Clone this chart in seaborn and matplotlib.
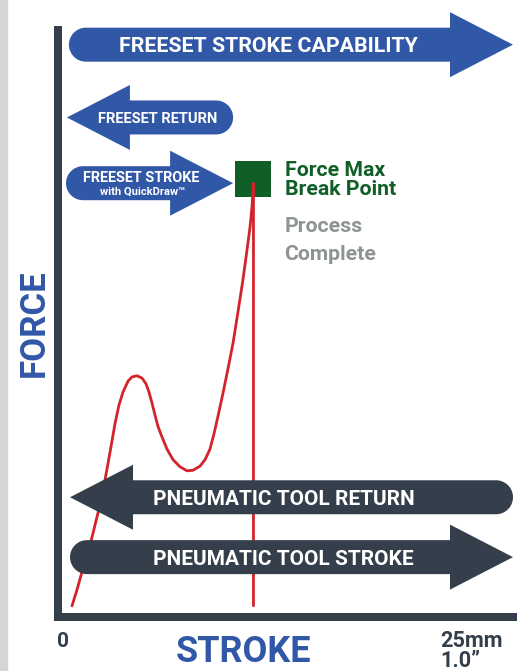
"""
Force vs stroke profile: FreeSet tool against a pneumatic tool
"""

import numpy as np
import matplotlib.pyplot as plt
import seaborn as sns
from matplotlib.patches import Polygon, Rectangle

# ==================== DATA ====================
# force curve (stroke in mm, force in % of chart height)
stroke_mm = [0.77, 1.04, 1.32, 1.59, 1.87, 2.09, 2.31, 2.58, 2.86, 3.13,
             3.35, 3.57, 3.85, 4.07, 4.34, 4.62, 4.84, 5.00, 5.16, 5.33,
             5.49, 5.71, 5.99, 6.32, 6.70, 7.09, 7.42, 7.80, 8.08, 8.35,
             8.57, 8.79, 9.07, 9.34, 9.62, 9.89, 10.16, 10.38, 10.55, 10.66,
             10.74, 10.74]
force = [1.9, 4.6, 7.7, 10.6, 13.6, 16.4, 19.1, 23.3, 28.1, 32.9,
         36.1, 38.3, 40.2, 40.9, 41.1, 40.7, 39.7, 38.3, 36.5, 34.4,
         32.5, 30.7, 28.6, 26.8, 25.6, 24.9, 25.0, 25.7, 26.8, 28.6,
         31.2, 34.2, 38.2, 42.3, 46.7, 52.0, 57.4, 62.4, 66.4, 69.9,
         73.9, 1.9]

break_stroke = 10.74
break_force = 73.9

# arrows: label, from (tail), to (tip), level on the force axis
arrow_labels = ['FREESET STROKE CAPABILITY', 'FREESET RETURN', 'FREESET STROKE',
                'PNEUMATIC TOOL RETURN', 'PNEUMATIC TOOL STROKE']
arrow_from = [0.60, 9.62, 0.44, 25.0, 0.66]
arrow_to = [25.0, 0.49, 9.62, 0.66, 25.0]
arrow_level = [97.5, 85.1, 73.9, 20.4, 10.2]
arrow_label_x = [11.54, 5.47, 4.59, 12.42, 12.36]

x_max = 25
y_max = 100

# ==================== STYLE ====================
BLUE = '#3157a7'
DARK = '#343f4b'
GREEN = '#0f5f26'
RED = '#d3232b'
GREY = '#8e9394'

sns.set_theme(style='white')
plt.rcParams['font.family'] = ['Roboto', 'DejaVu Sans']
plt.rcParams['font.weight'] = 'bold'

W, H = 525, 671
fig = plt.figure(figsize=(W / 100, H / 100), dpi=100)
fig.patch.set_facecolor('white')
fig.patches.append(Rectangle((0, 0), 7 / W, 1, transform=fig.transFigure,
                             color='#d4d5d5', zorder=0))

ax_l, ax_b, ax_w, ax_h = 58, 54, 455, 587  # pixels
ax = fig.add_axes([ax_l / W, ax_b / H, ax_w / W, ax_h / H])
ax.set_xlim(0, x_max)
ax.set_ylim(0, y_max)
SX = ax_w / x_max   # px per mm
SY = ax_h / y_max   # px per force unit

# ==================== CURVE ====================
sns.lineplot(x=stroke_mm, y=force, sort=False, estimator=None, errorbar=None,
             color=RED, linewidth=2.0, ax=ax, zorder=4)
sns.scatterplot(x=[break_stroke], y=[break_force + 0.7], marker='s', s=660,
                color=GREEN, linewidth=0, ax=ax, zorder=3)

# ==================== ARROWS ====================
BODY_PX, HEAD_PX, HEAD_LEN_PX = 34, 65, 63


def arrow_poly(x_tail, x_tip, yc, color):
    d = 1 if x_tip > x_tail else -1
    L = abs(x_tip - x_tail)
    bh = BODY_PX / 2 / SY
    hh = HEAD_PX / 2 / SY
    hl = HEAD_LEN_PX / SX
    rx = BODY_PX / 2 / SX
    t = np.linspace(np.pi / 2, 3 * np.pi / 2, 40)
    u = list(rx + rx * np.cos(t)) + [L - hl, L - hl, L, L - hl, L - hl]
    v = list(bh * np.sin(t)) + [-bh, -hh, 0, hh, bh]
    xs = x_tail + d * np.array(u)
    ys = yc + np.array(v)
    return Polygon(np.column_stack([xs, ys]), closed=True, facecolor=color,
                   edgecolor='none', clip_on=False, zorder=5)


def baseline(level, size):
    cap_px = size * 100 / 72 * 0.711
    return level - cap_px / 2 / SY


arrow_colors = [BLUE, BLUE, BLUE, DARK, DARK]
arrow_sizes = [15.4, 10.5, 10.4, 15, 15]
for lab, x0, x1, lv, lx, col, fs in zip(arrow_labels, arrow_from, arrow_to,
                                        arrow_level, arrow_label_x,
                                        arrow_colors, arrow_sizes):
    ax.add_patch(arrow_poly(x0, x1, lv, col))
    dy = 1.0 if lab == 'FREESET STROKE' else 0
    ax.text(lx, baseline(lv, fs) + dy, lab, color='white', fontsize=fs,
            fontweight='bold', ha='center', va='baseline', zorder=6)

ax.text(4.62, 72.0, 'with QuickDraw™', color='white', fontsize=8,
        fontweight='bold', ha='center', va='baseline', zorder=6)

# ==================== NOTES ====================
ax.text(12.45, 75.1, 'Force Max', color=GREEN, fontsize=15.3, fontweight='bold',
        ha='left', va='baseline')
ax.text(12.45, 71.9, 'Break Point', color=GREEN, fontsize=15.3, fontweight='bold',
        ha='left', va='baseline')
ax.text(12.45, 65.6, 'Process', color=GREY, fontsize=15.3, fontweight='bold',
        ha='left', va='baseline')
ax.text(12.45, 60.9, 'Complete', color=GREY, fontsize=15.3, fontweight='bold',
        ha='left', va='baseline')

# ==================== AXES ====================
ax.set(xticks=[], yticks=[], xlabel='', ylabel='')
for side in ['top', 'right']:
    ax.spines[side].set_visible(False)
for side in ['left', 'bottom']:
    ax.spines[side].set_color(DARK)
    ax.spines[side].set_linewidth(8 * 0.72)
    ax.spines[side].set_capstyle('projecting')

ax.text(0.25, -5.1, '0', color=DARK, fontsize=15, fontweight='bold',
        ha='center', va='baseline', clip_on=False)
ax.text(20.99, -5.1, '25mm', color=DARK, fontsize=15.6, fontweight='bold',
        ha='left', va='baseline', clip_on=False)
ax.text(20.99, -8.6, '1.0\u201d', color=DARK, fontsize=15.6, fontweight='bold',
        ha='left', va='baseline', clip_on=False)
ax.text(10.19, -7.7, 'STROKE', color=BLUE, fontsize=26, fontweight='bold',
        ha='center', va='baseline', clip_on=False)
ax.text(-0.77, 50.1, 'FORCE', color=BLUE, fontsize=25, fontweight='bold',
        rotation=90, rotation_mode='anchor', ha='center', va='baseline',
        clip_on=False)

fig.savefig('out.png', dpi=100)
